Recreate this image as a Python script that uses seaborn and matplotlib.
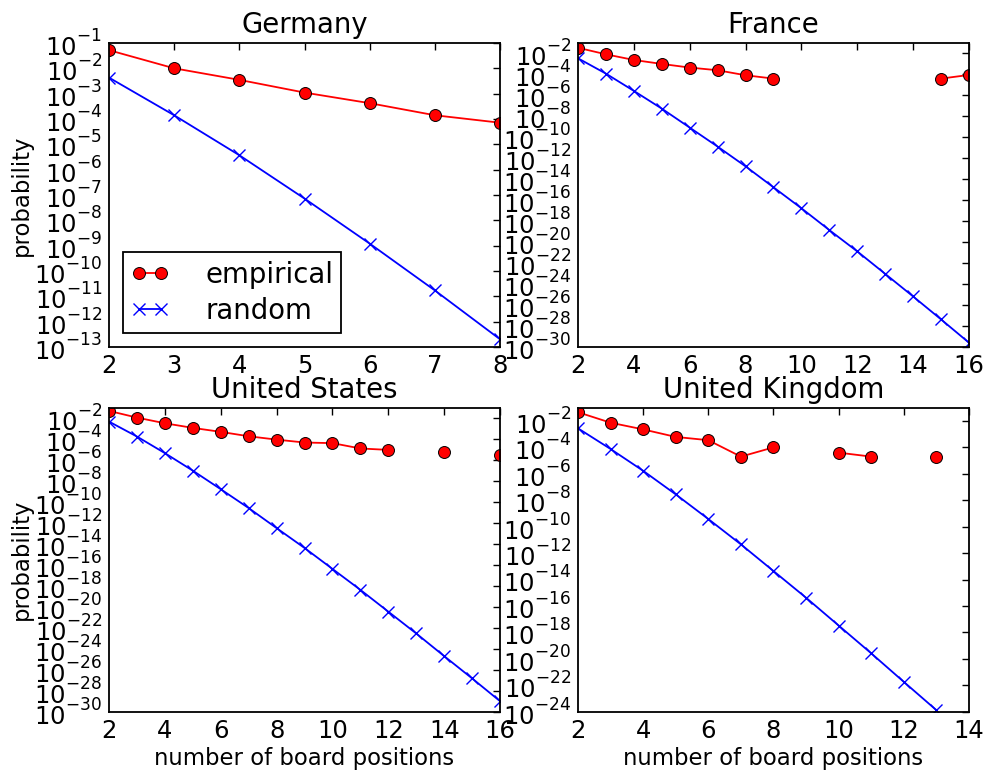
import numpy as np
import pandas as pd
import matplotlib
matplotlib.use("Agg")
import matplotlib.pyplot as plt
import seaborn as sns
from matplotlib.ticker import FixedLocator, LogFormatterMathtext, MultipleLocator, NullLocator

sns.set_theme(style="white")
plt.rcParams['font.family'] = ['DejaVu Sans']
plt.rcParams['axes.unicode_minus'] = False
plt.rcParams['mathtext.default'] = 'regular'
plt.rcParams['text.color'] = 'black'
plt.rcParams['axes.labelcolor'] = 'black'
plt.rcParams['xtick.color'] = 'black'
plt.rcParams['ytick.color'] = 'black'

# raise superscripts a little, like the classic mathtext look
try:
    import matplotlib._mathtext as _mt
    _mt.DejaVuSansFontConstants.sup1 = 1.05
except Exception:
    pass

# ---------------- data ----------------
series_names = ["empirical", "random"]
countries = ["Germany", "France", "United States", "United Kingdom"]

germany_n = [2, 3, 4, 5, 6, 7, 8]
germany_empirical = [5.2e-2, 1.0e-2, 3.5e-3, 1.1e-3, 4.2e-4, 1.4e-4, 7.1e-5]
germany_random = [4.3e-3, 1.4e-4, 3.7e-6, 7.2e-8, 1.2e-9, 1.7e-11, 2.0e-13]

france_n = [2, 3, 4, 5, 6, 7, 8, 9, 10, 11, 12, 13, 14, 15, 16]
france_empirical = [3.5e-2, 8.3e-3, 2.4e-3, 1.0e-3, 4.5e-4, 2.5e-4, 8.3e-5, 4.0e-5,
                    np.nan, np.nan, np.nan, np.nan, np.nan, 4.0e-5, 8.9e-5]
france_random = [3.5e-3, 1.2e-4, 2.7e-6, 5.5e-8, 8.5e-10, 1.3e-11, 1.7e-13, 1.7e-15,
                 1.7e-17, 1.4e-19, 1.3e-21, 9.3e-24, 6.5e-26, 4.2e-28, 2.5e-30]

us_n = [2, 3, 4, 5, 6, 7, 8, 9, 10, 11, 12, 13, 14, 15, 16]
us_empirical = [5.0e-2, 1.15e-2, 3.3e-3, 1.2e-3, 5.0e-4, 1.9e-4, 9.1e-5, 4.8e-5,
                4.2e-5, 1.3e-5, 9.5e-6, np.nan, 6.6e-6, np.nan, 3.4e-6]
us_random = [4.8e-3, 1.8e-4, 4.7e-6, 1.0e-7, 1.7e-9, 2.7e-11, 3.3e-13, 4.2e-15,
             4.2e-17, 4.2e-19, 3.5e-21, 2.9e-23, 2.0e-25, 1.5e-27, 1.0e-29]

uk_n = [2, 3, 4, 5, 6, 7, 8, 9, 10, 11, 12, 13]
uk_empirical = [4.6e-2, 7.4e-3, 2.3e-3, 6.2e-4, 3.5e-4, 2.0e-5, 1.0e-4, np.nan,
                4.0e-5, 2.0e-5, np.nan, 2.0e-5]
uk_random = [2.8e-3, 7.6e-5, 1.7e-6, 2.8e-8, 3.8e-10, 4.6e-12, 4.4e-14, 4.2e-16,
             3.3e-18, 2.6e-20, 1.8e-22, 1.3e-24]

# axis settings per panel
x_limits = [(2, 8), (2, 16), (2, 16), (2, 14)]
x_steps = [1, 2, 2, 2]
y_exp_limits = [(-13, -1), (-30, -1), (-30, -1), (-24, -1)]
y_exp_steps = [1, 2, 2, 2]

panel_data = [
    (germany_n, germany_empirical, germany_random),
    (france_n, france_empirical, france_random),
    (us_n, us_empirical, us_random),
    (uk_n, uk_empirical, uk_random),
]


def to_frame(n, p):
    df = pd.DataFrame({"n": n, "p": p})
    # consecutive non-missing runs become separate line segments
    df["seg"] = df["p"].isna().cumsum()
    return df.dropna()


fig, axes = plt.subplots(2, 2, figsize=(9.86, 7.7), dpi=100)
fig.subplots_adjust(left=0.1105, right=0.9828, bottom=0.0757, top=0.9442,
                    wspace=0.199, hspace=0.2)

for i, ax in enumerate(axes.flat):
    n, emp, rnd = panel_data[i]
    ax.set_yscale("log")
    sns.lineplot(data=to_frame(n, emp), x="n", y="p", units="seg", estimator=None,
                 sort=False, color="#ff0000", marker="o", markersize=8.6,
                 markerfacecolor="#ff0000", markeredgecolor="black",
                 markeredgewidth=0.7, linewidth=1.3, legend=False, ax=ax)
    sns.lineplot(data=to_frame(n, rnd), x="n", y="p", units="seg", estimator=None,
                 sort=False, color="#0000ff", marker="x", markersize=8.6,
                 markeredgecolor="#0000ff", markeredgewidth=1.0,
                 linewidth=1.3, legend=False, ax=ax)

    ax.set_xlim(*x_limits[i])
    lo, hi = y_exp_limits[i]
    ax.set_ylim(10.0 ** lo, 10.0 ** hi)
    ax.xaxis.set_major_locator(MultipleLocator(x_steps[i]))
    exps = np.arange(lo, hi + 1)
    exps = exps[exps % y_exp_steps[i] == 0]
    ax.yaxis.set_major_locator(FixedLocator(10.0 ** exps))
    ax.yaxis.set_major_formatter(LogFormatterMathtext())
    ax.yaxis.set_minor_locator(NullLocator())
    ax.xaxis.set_minor_locator(NullLocator())

    ax.tick_params(axis="both", which="major", direction="in", length=5, width=1,
                   top=True, right=True, labelsize=17.5, pad=5, colors="black")
    for sp in ax.spines.values():
        sp.set_linewidth(1.3)
        sp.set_color("black")
        sp.set_visible(True)

    ax.set_title(countries[i], fontsize=19.8, pad=7, color="black")
    ax.set_xlabel("")
    ax.set_ylabel("")
    if i % 2 == 0:
        ax.set_ylabel("probability", fontsize=16.4, color="black")
        ax.yaxis.set_label_coords(-0.195, 0.5)
    if i >= 2:
        ax.set_xlabel("number of board positions", fontsize=16.4, color="black")
        ax.xaxis.set_label_coords(0.5, -0.115)

    if i == 0:
        handles = ax.get_lines()[:2]
        leg = ax.legend(handles, series_names, loc="lower left", numpoints=2,
                        fontsize=19.8, frameon=True, fancybox=False, shadow=False,
                        handlelength=1.4, handletextpad=1.3, borderpad=0.3,
                        labelspacing=0.3, borderaxespad=0.5)
        fr = leg.get_frame()
        fr.set_edgecolor("black")
        fr.set_linewidth(1.3)
        fr.set_alpha(1)
        for t in leg.get_texts():
            t.set_color("black")

fig.savefig("out.png", dpi=100)
